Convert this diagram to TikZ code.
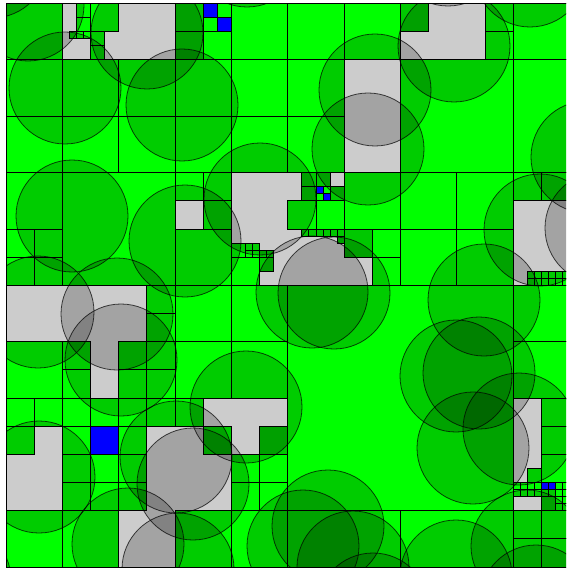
\documentclass[tikz,border=0pt]{standalone}
\definecolor{brt}{RGB}{0,255,0}
\definecolor{med}{RGB}{0,200,0}
\definecolor{blu}{RGB}{0,0,255}
\tikzset{
  cellB/.style={fill=brt,draw=black,line width=0.8pt},
  cellM/.style={fill=med,draw=black,line width=0.8pt},
  cellU/.style={fill=blu,draw=black,line width=0.8pt},
  circ/.style={fill=black,fill opacity=0.2,draw=black,draw opacity=0.7,line width=0.8pt},
  edge/.style={draw=black,line width=0.9pt}
}
\newcommand{\qB}[3]{\draw[cellB] (#1,#2) rectangle ++(#3,#3);}
\newcommand{\qM}[3]{\draw[cellM] (#1,#2) rectangle ++(#3,#3);}
\newcommand{\qU}[3]{\draw[cellU] (#1,#2) rectangle ++(#3,#3);}
\newcommand{\cc}[2]{\draw[circ] (#1,#2) circle[radius=56];}
\begin{document}
\begin{tikzpicture}[x=1pt,y=-1pt]
\useasboundingbox (0,0) rectangle (566,569);
\fill[white] (0,0) rectangle (566,569);
\begin{scope}
\clip (6,3.5) rectangle (566,567);
\begin{scope}[shift={(6,3.5)},x=56.35pt,y=-56.35pt]
% row 0
\qB{0}{0}{1}
\qB{1.25}{0}{.25} \qB{1.25}{.25}{.25} \qB{1.5}{0}{.5}
\qB{1.125}{.5}{.125} \qB{1.25}{.5}{.125} \qB{1.375}{.5}{.125}
\qB{1.5}{.5}{.25} \qB{1.5}{.75}{.25}
\qM{3}{0}{.5} \qM{3}{.5}{.5} \qU{3.5}{0}{.25} \qB{3.75}{0}{.25} \qB{3.5}{.25}{.25} \qU{3.75}{.25}{.25} \qB{3.5}{.5}{.5}
\qB{4}{0}{1} \qB{5}{0}{1} \qB{6}{0}{1}
\qM{7}{0}{.5} \qB{8.5}{0}{.5} \qB{8.5}{.5}{.5} \qB{9}{0}{1}
% rows 1-2
\qB{0}{1}{1} \qB{1}{1}{1} \qB{2}{1}{1} \qB{3}{1}{1} \qB{4}{1}{1} \qB{5}{1}{1} \qB{7}{1}{2} \qB{9}{1}{2}
\qB{0}{2}{1} \qB{1}{2}{1} \qB{2}{2}{1} \qB{3}{2}{1} \qB{4}{2}{1} \qB{5}{2}{1}
% rows 3-4
\qB{0}{3}{1} \qB{0}{4}{.5} \qB{.5}{4}{.5} \qB{0}{4.5}{.5} \qB{.5}{4.5}{.5}
\qB{1}{3}{2}
\qB{3}{3}{.5} \qB{3.5}{3}{.5} \qB{3.5}{3.5}{.5} \qB{3}{4}{1}
\qB{4}{4.25}{.25} \qB{4.25}{4.25}{.125} \qB{4.375}{4.25}{.125} \qB{4.25}{4.375}{.125} \qB{4.375}{4.375}{.125}
\qM{4.5}{4.375}{.125} \qM{4.625}{4.375}{.125} \qM{4.5}{4.5}{.25} \qB{4}{4.5}{.5}
\qM{5.25}{3}{.25} \qM{5.5}{3}{.25} \qM{5.25}{3.25}{.25}
\qU{5.5}{3.25}{.125} \qB{5.625}{3.25}{.125} \qB{5.5}{3.375}{.125} \qU{5.625}{3.375}{.125} \qM{5.75}{3.25}{.25}
\qB{5}{3.5}{.5} \qB{5.5}{3.5}{.5}
\foreach \xx in {5.25,5.375,5.5,5.625,5.75,5.875} {\qM{\xx}{4}{.125}}
\qM{5.875}{4.125}{.125}
\qB{6}{3}{1} \qM{6}{4}{.5} \qB{6.5}{4}{.5} \qB{6.5}{4.5}{.5}
\qB{7}{3}{1} \qB{8}{3}{1} \qB{7}{4}{1} \qB{8}{4}{1}
\qB{9}{3}{.5} \qB{9.5}{3}{.5}
\foreach \xx in {9.25,9.375,9.5,9.625,9.75,9.875} {\qB{\xx}{4.75}{.125} \qB{\xx}{4.875}{.125}}
% rows 5-9
\qB{5}{5}{4}
\qB{2.5}{5}{.5} \qB{2.5}{5.5}{.5} \qB{3}{5}{1} \qB{4}{5}{1}
\qB{0}{6}{1} \qB{1}{6}{.5} \qB{1}{6.5}{.5} \qB{2}{6}{.5} \qB{2.5}{6}{.5} \qB{2}{6.5}{.5} \qB{2.5}{6.5}{.5} \qB{3}{6}{1} \qB{4}{6}{1}
\qB{0}{7}{.5} \qB{.5}{7}{.5} \qB{0}{7.5}{.5}
\qB{1}{7}{.5} \qB{1.5}{7}{.5} \qB{1}{7.5}{.5} \qU{1.5}{7.5}{.5}
\qB{2}{7}{.5} \qB{2.5}{7}{.5} \qB{2}{7.5}{.5} \qB{3}{7}{.5} \qB{3.5}{7.5}{.5} \qM{4.5}{7.5}{.5}
\qB{1}{8}{.5} \qB{1.5}{8}{.5} \qB{1}{8.5}{.5} \qB{1.5}{8.5}{.5} \qB{2}{8}{.5} \qB{2}{8.5}{.5}
\qB{4}{8}{.5} \qB{4.5}{8}{.5} \qB{4}{8.5}{.5} \qB{4.5}{8.5}{.5}
\qB{0}{9}{1} \qB{1}{9}{1} \qB{3}{9}{1} \qB{4}{9}{1} \qB{5}{9}{2} \qB{7}{9}{2}
\qB{9}{5}{1} \qB{9}{6}{1} \qB{9.5}{7}{.5} \qB{9.5}{7.5}{.5} \qB{9.5}{8}{.5} \qB{9.25}{8.25}{.25}
\foreach \xx in {9,9.125,9.25,9.375} {\qB{\xx}{8.5}{.125} \qB{\xx}{8.625}{.125}}
\qU{9.5}{8.5}{.125} \qU{9.625}{8.5}{.125} \qB{9.75}{8.5}{.125} \qB{9.875}{8.5}{.125}
\qM{9.5}{8.625}{.125} \qM{9.625}{8.625}{.125} \qB{9.75}{8.625}{.125} \qB{9.875}{8.625}{.125}
\qM{9.5}{8.75}{.25}
\qB{9.75}{8.75}{.125} \qB{9.875}{8.75}{.125} \qB{9.75}{8.875}{.125} \qB{9.875}{8.875}{.125}
\qB{9}{9}{.5} \qB{9.5}{9}{.5} \qB{9}{9.5}{.5} \qB{9.5}{9.5}{.5}
\end{scope}
% circles
\cc{65}{88} \cc{182}{105} \cc{147}{33} \cc{72}{216} \cc{185}{241} \cc{260}{199} \cc{-8}{-38} \cc{28}{5}
\cc{375}{90} \cc{368}{149} \cc{454}{46} \cc{530}{-29} \cc{587}{157}
\cc{334}{293} \cc{312}{292} \cc{540}{230} \cc{601}{228} \cc{484}{300}
\cc{117}{314} \cc{121}{360} \cc{38}{312} \cc{39}{477} \cc{128}{544}
\cc{176}{457} \cc{193}{484} \cc{246}{407} \cc{178}{569}
\cc{456}{376} \cc{479}{373} \cc{473}{448} \cc{519}{429}
\cc{527}{546} \cc{536}{601} \cc{328}{526} \cc{303}{546} \cc{353}{567} \cc{373}{609} \cc{456}{576}
\cc{247}{-49} \cc{448}{-50} \cc{-45}{580}
\end{scope}
\draw[edge] (566,3.5) -- (6,3.5) -- (6,567) -- (566,567);
\end{tikzpicture}
\end{document}
